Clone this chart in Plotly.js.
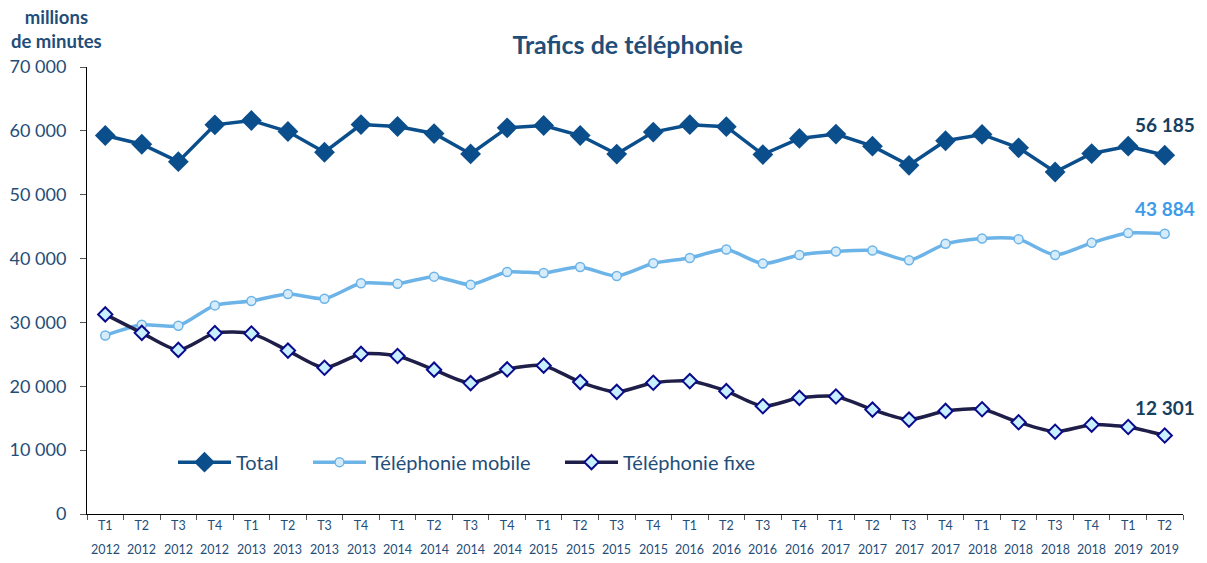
<!DOCTYPE html>
<html>
<head>
<meta charset="utf-8">
<script src="https://cdn.plot.ly/plotly-3.0.1.min.js"></script>
<style>html,body{margin:0;padding:0;background:#fff}#chart{width:1207px;height:563px}</style>
</head>
<body>
<div id="chart"></div>
<script>
const quarters = ["T1","T2","T3","T4","T1","T2","T3","T4","T1","T2","T3","T4","T1","T2","T3","T4","T1","T2","T3","T4","T1","T2","T3","T4","T1","T2","T3","T4","T1","T2"];
const years = ["2012","2012","2012","2012","2013","2013","2013","2013","2014","2014","2014","2014","2015","2015","2015","2015","2016","2016","2016","2016","2017","2017","2017","2017","2018","2018","2018","2018","2019","2019"];
const total = [59270,57900,55180,60940,61620,59900,56650,60990,60680,59580,56390,60470,60840,59270,56360,59810,60970,60650,56290,58810,59500,57600,54610,58450,59440,57340,53560,56450,57600,56185];
const mobile = [27960,29630,29480,32670,33350,34450,33720,36130,36070,37170,35920,37910,37750,38690,37270,39260,40100,41410,39210,40570,41100,41260,39730,42310,43150,43040,40570,42460,43990,43884];
const fixe = [31260,28370,25700,28320,28270,25590,22910,25070,24750,22600,20500,22650,23230,20660,19130,20550,20810,19240,16880,18190,18400,16350,14780,16140,16400,14360,12890,13990,13620,12301];
const seriesNames = ["Total","Téléphonie mobile","Téléphonie fixe"];
const lastLabels = ["56 185","43 884","12 301"];

const cats = quarters.map((q,i)=>q+" "+years[i]);
const font = "Lato, 'Open Sans', sans-serif";
const txt = "#1F4E79";

const traces = [
  {x:cats, y:total, name:seriesNames[0], type:"scatter", mode:"lines+markers", legend:"legend",
   line:{color:"#0B4E8C", width:3.5},
   marker:{symbol:"diamond", size:16, color:"#0B4E8C"}},
  {x:cats, y:mobile, name:seriesNames[1], type:"scatter", mode:"lines+markers", legend:"legend2",
   line:{color:"#6CB4E8", width:3.5, shape:"spline", smoothing:0.7},
   marker:{symbol:"circle", size:9, color:"#D7ECFA", line:{color:"#6CB4E8", width:1.5}}},
  {x:cats, y:fixe, name:seriesNames[2], type:"scatter", mode:"lines+markers", legend:"legend3",
   line:{color:"#1E1E48", width:3.5, shape:"spline", smoothing:0.7},
   marker:{symbol:"diamond", size:11, color:"#C8F0FF", line:{color:"#0A0A8C", width:2}}}
];

const last = cats.length-1;
const annColors = ["#16405F","#3D9BE9","#16405F"];
const annShift = [31,25,28];
const annVals = [total[last], mobile[last], fixe[last]];
const annotations = annVals.map((v,i)=>({
  x:cats[last], y:v, xref:"x", yref:"y", text:"<b>"+lastLabels[i]+"</b>",
  showarrow:false, yshift:annShift[i], xanchor:"center", yanchor:"middle",
  font:{family:font, size:19, color:annColors[i]}
}));
years.forEach((yr,i)=>annotations.push({
  x:cats[i], y:0, xref:"x", yref:"paper", text:yr, showarrow:false,
  yshift:-35, yanchor:"middle", xanchor:"center",
  font:{family:font, size:12.5, color:txt}
}));
annotations.push({
  xref:"paper", yref:"paper", x:-0.028, y:1.03, xanchor:"center", yanchor:"bottom",
  text:"<b>millions<br>de minutes</b>", showarrow:false, align:"center",
  font:{family:font, size:18.5, color:"#1F4E79"}
});

const legBase = {orientation:"h", y:0.116, xanchor:"left", yanchor:"middle",
  font:{family:font, size:20, color:txt}, bgcolor:"rgba(0,0,0,0)", itemwidth:53};
const px2paper = p => (p-87)/1096;

const layout = {
  width:1207, height:563,
  margin:{l:87, r:24, t:67, b:49},
  paper_bgcolor:"#fff", plot_bgcolor:"#fff",
  separators:", ",
  title:{text:"<b>Trafics de téléphonie</b>", x:0.52, xanchor:"center", y:0.92, yanchor:"middle",
         font:{family:font, size:25, color:"#1F4E79"}},
  showlegend:true,
  legend:Object.assign({}, legBase, {x:px2paper(173)}),
  legend2:Object.assign({}, legBase, {x:px2paper(308)}),
  legend3:Object.assign({}, legBase, {x:px2paper(560)}),
  xaxis:{type:"category", range:[-0.5, 29.5], showline:true, linecolor:"#000", linewidth:1,
         ticks:"outside", ticklen:5, tickcolor:"#555", tickson:"boundaries",
         tickvals:cats, ticktext:quarters,
         showgrid:false, zeroline:false, tickangle:0,
         tickfont:{family:font, size:12.5, color:txt}},
  yaxis:{range:[0,70000], dtick:10000, tickformat:",d", showline:true, linecolor:"#000", linewidth:1,
         ticks:"outside", ticklen:6, tickcolor:"#555", showgrid:false, zeroline:false,
         ticklabelstandoff:10,
         tickfont:{family:font, size:18, color:txt}},
  annotations:annotations
};

Plotly.newPlot("chart", traces, layout, {displayModeBar:false, staticPlot:true});
</script>
</body>
</html>
